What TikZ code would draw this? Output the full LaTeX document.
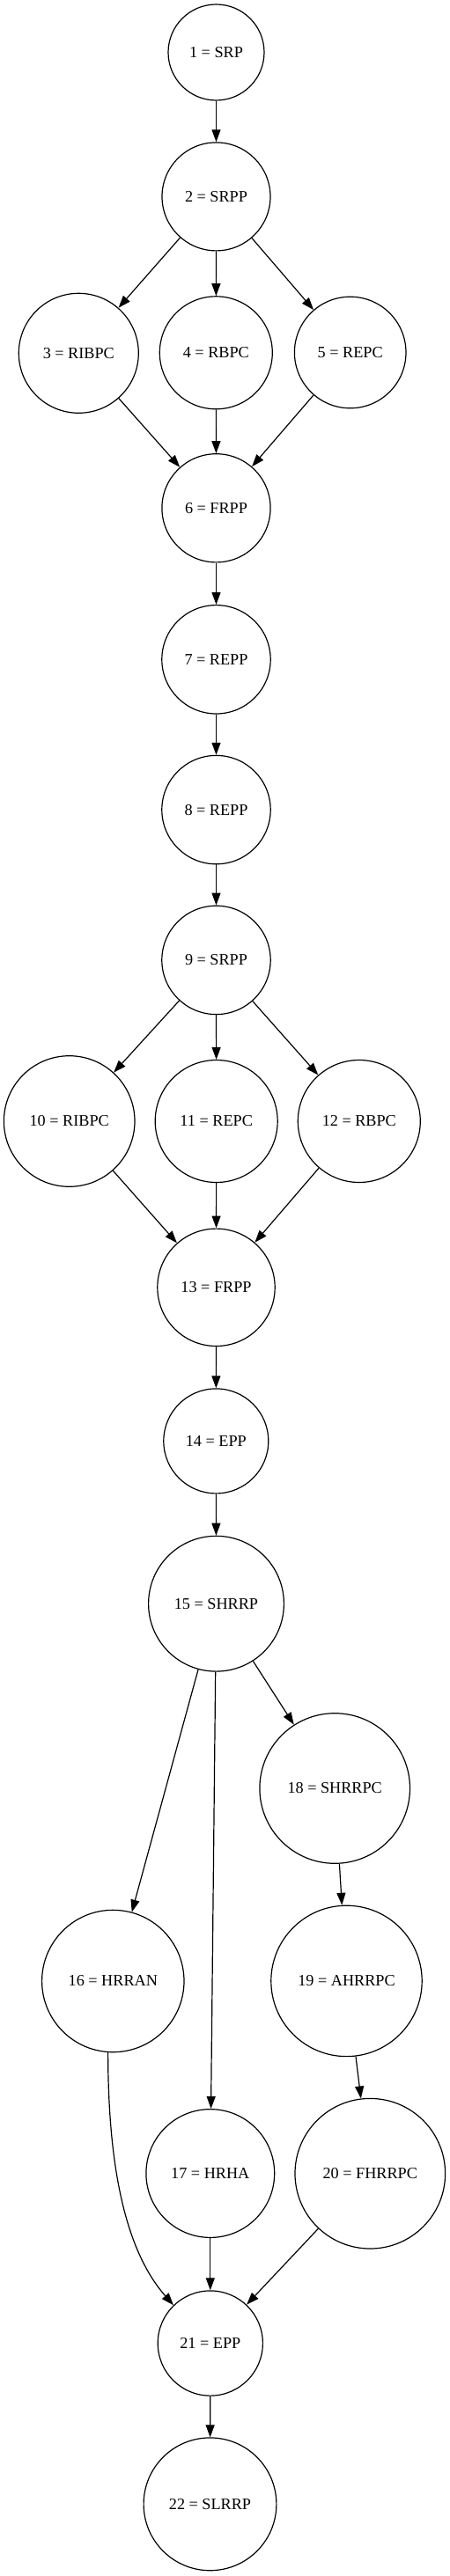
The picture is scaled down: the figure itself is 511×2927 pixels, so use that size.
\documentclass[tikz,border=0pt]{standalone}
\usepackage{fontspec}
\setmainfont{Liberation Serif}
\usetikzlibrary{arrows.meta}
\begin{document}
\begin{tikzpicture}[x=1pt,y=1pt,
  gnode/.style={draw, circle, inner sep=0pt, line width=1.2pt, font=\fontsize{18.2}{22}\selectfont},
  arr/.style={-{Triangle[length=14pt,width=10pt]}, line width=1.2pt}]
\useasboundingbox[fill=white] (0,0) rectangle (511,-2927);
\node[gnode, minimum size=109pt]   (n1)  at (245.5,-59.5)  {1 = SRP};
\node[gnode, minimum size=123pt]   (n2)  at (245.5,-223.4) {2 = SRPP};
\node[gnode, minimum size=136pt]   (n3)  at (89.3,-401.3)  {3 = RIBPC};
\node[gnode, minimum size=128pt]   (n4)  at (245.3,-400.8) {4 = RBPC};
\node[gnode, minimum size=126.6pt] (n5)  at (397.7,-400.5) {5 = REPC};
\node[gnode, minimum size=123.2pt] (n6)  at (245.5,-577.3) {6 = FRPP};
\node[gnode, minimum size=123.4pt] (n7)  at (245.5,-749.3) {7 = REPP};
\node[gnode, minimum size=123.4pt] (n8)  at (245.5,-920.1) {8 = REPP};
\node[gnode, minimum size=123.4pt] (n9)  at (245.5,-1090.9) {9 = SRPP};
\node[gnode, minimum size=148.6pt] (n10) at (78.7,-1274)   {10 = RIBPC};
\node[gnode, minimum size=139pt]   (n11) at (245.7,-1274)  {11 = REPC};
\node[gnode, minimum size=139pt]   (n12) at (407.8,-1274)  {12 = RBPC};
\node[gnode, minimum size=133.4pt] (n13) at (245.5,-1462.8) {13 = FRPP};
\node[gnode, minimum size=119pt]   (n14) at (245.3,-1637.4) {14 = EPP};
\node[gnode, minimum size=153.8pt] (n15) at (245.5,-1822.2) {15 = SHRRP};
\node[gnode, minimum size=161.4pt] (n16) at (128.3,-2251)  {16 = HRRAN};
\node[gnode, minimum size=145.8pt] (n17) at (238.8,-2469.5) {17 = HRHA};
\node[gnode, minimum size=170.6pt] (n18) at (380.2,-2032)  {18 = SHRRPC};
\node[gnode, minimum size=171.4pt] (n19) at (393.5,-2250.9) {19 = AHRRPC};
\node[gnode, minimum size=170.6pt] (n20) at (420.3,-2469.7) {20 = FHRRPC};
\node[gnode, minimum size=119.2pt] (n21) at (238.8,-2662.5) {21 = EPP};
\node[gnode, minimum size=150.8pt] (n22) at (238.5,-2845.3) {22 = SLRRP};

\draw[arr] (n1) -- (n2);
\draw[arr] (n2) -- (n3);
\draw[arr] (n2) -- (n4);
\draw[arr] (n2) -- (n5);
\draw[arr] (n3) -- (n6);
\draw[arr] (n4) -- (n6);
\draw[arr] (n5) -- (n6);
\draw[arr] (n6) -- (n7);
\draw[arr] (n7) -- (n8);
\draw[arr] (n8) -- (n9);
\draw[arr] (n9) -- (n10);
\draw[arr] (n9) -- (n11);
\draw[arr] (n9) -- (n12);
\draw[arr] (n10) -- (n13);
\draw[arr] (n11) -- (n13);
\draw[arr] (n12) -- (n13);
\draw[arr] (n13) -- (n14);
\draw[arr] (n14) -- (n15);
\draw[arr] (n15) -- (n16);
\draw[arr] (n15) -- (n17);
\draw[arr] (n15) -- (n18);
\draw[arr] (n18) -- (n19);
\draw[arr] (n19) -- (n20);
\draw[arr] (n16.266) .. controls +(0,-138) and +(-52,59) .. (n21.134);
\draw[arr] (n17) -- (n21);
\draw[arr] (n20) -- (n21);
\draw[arr] (n21) -- (n22);
\end{tikzpicture}
\end{document}
